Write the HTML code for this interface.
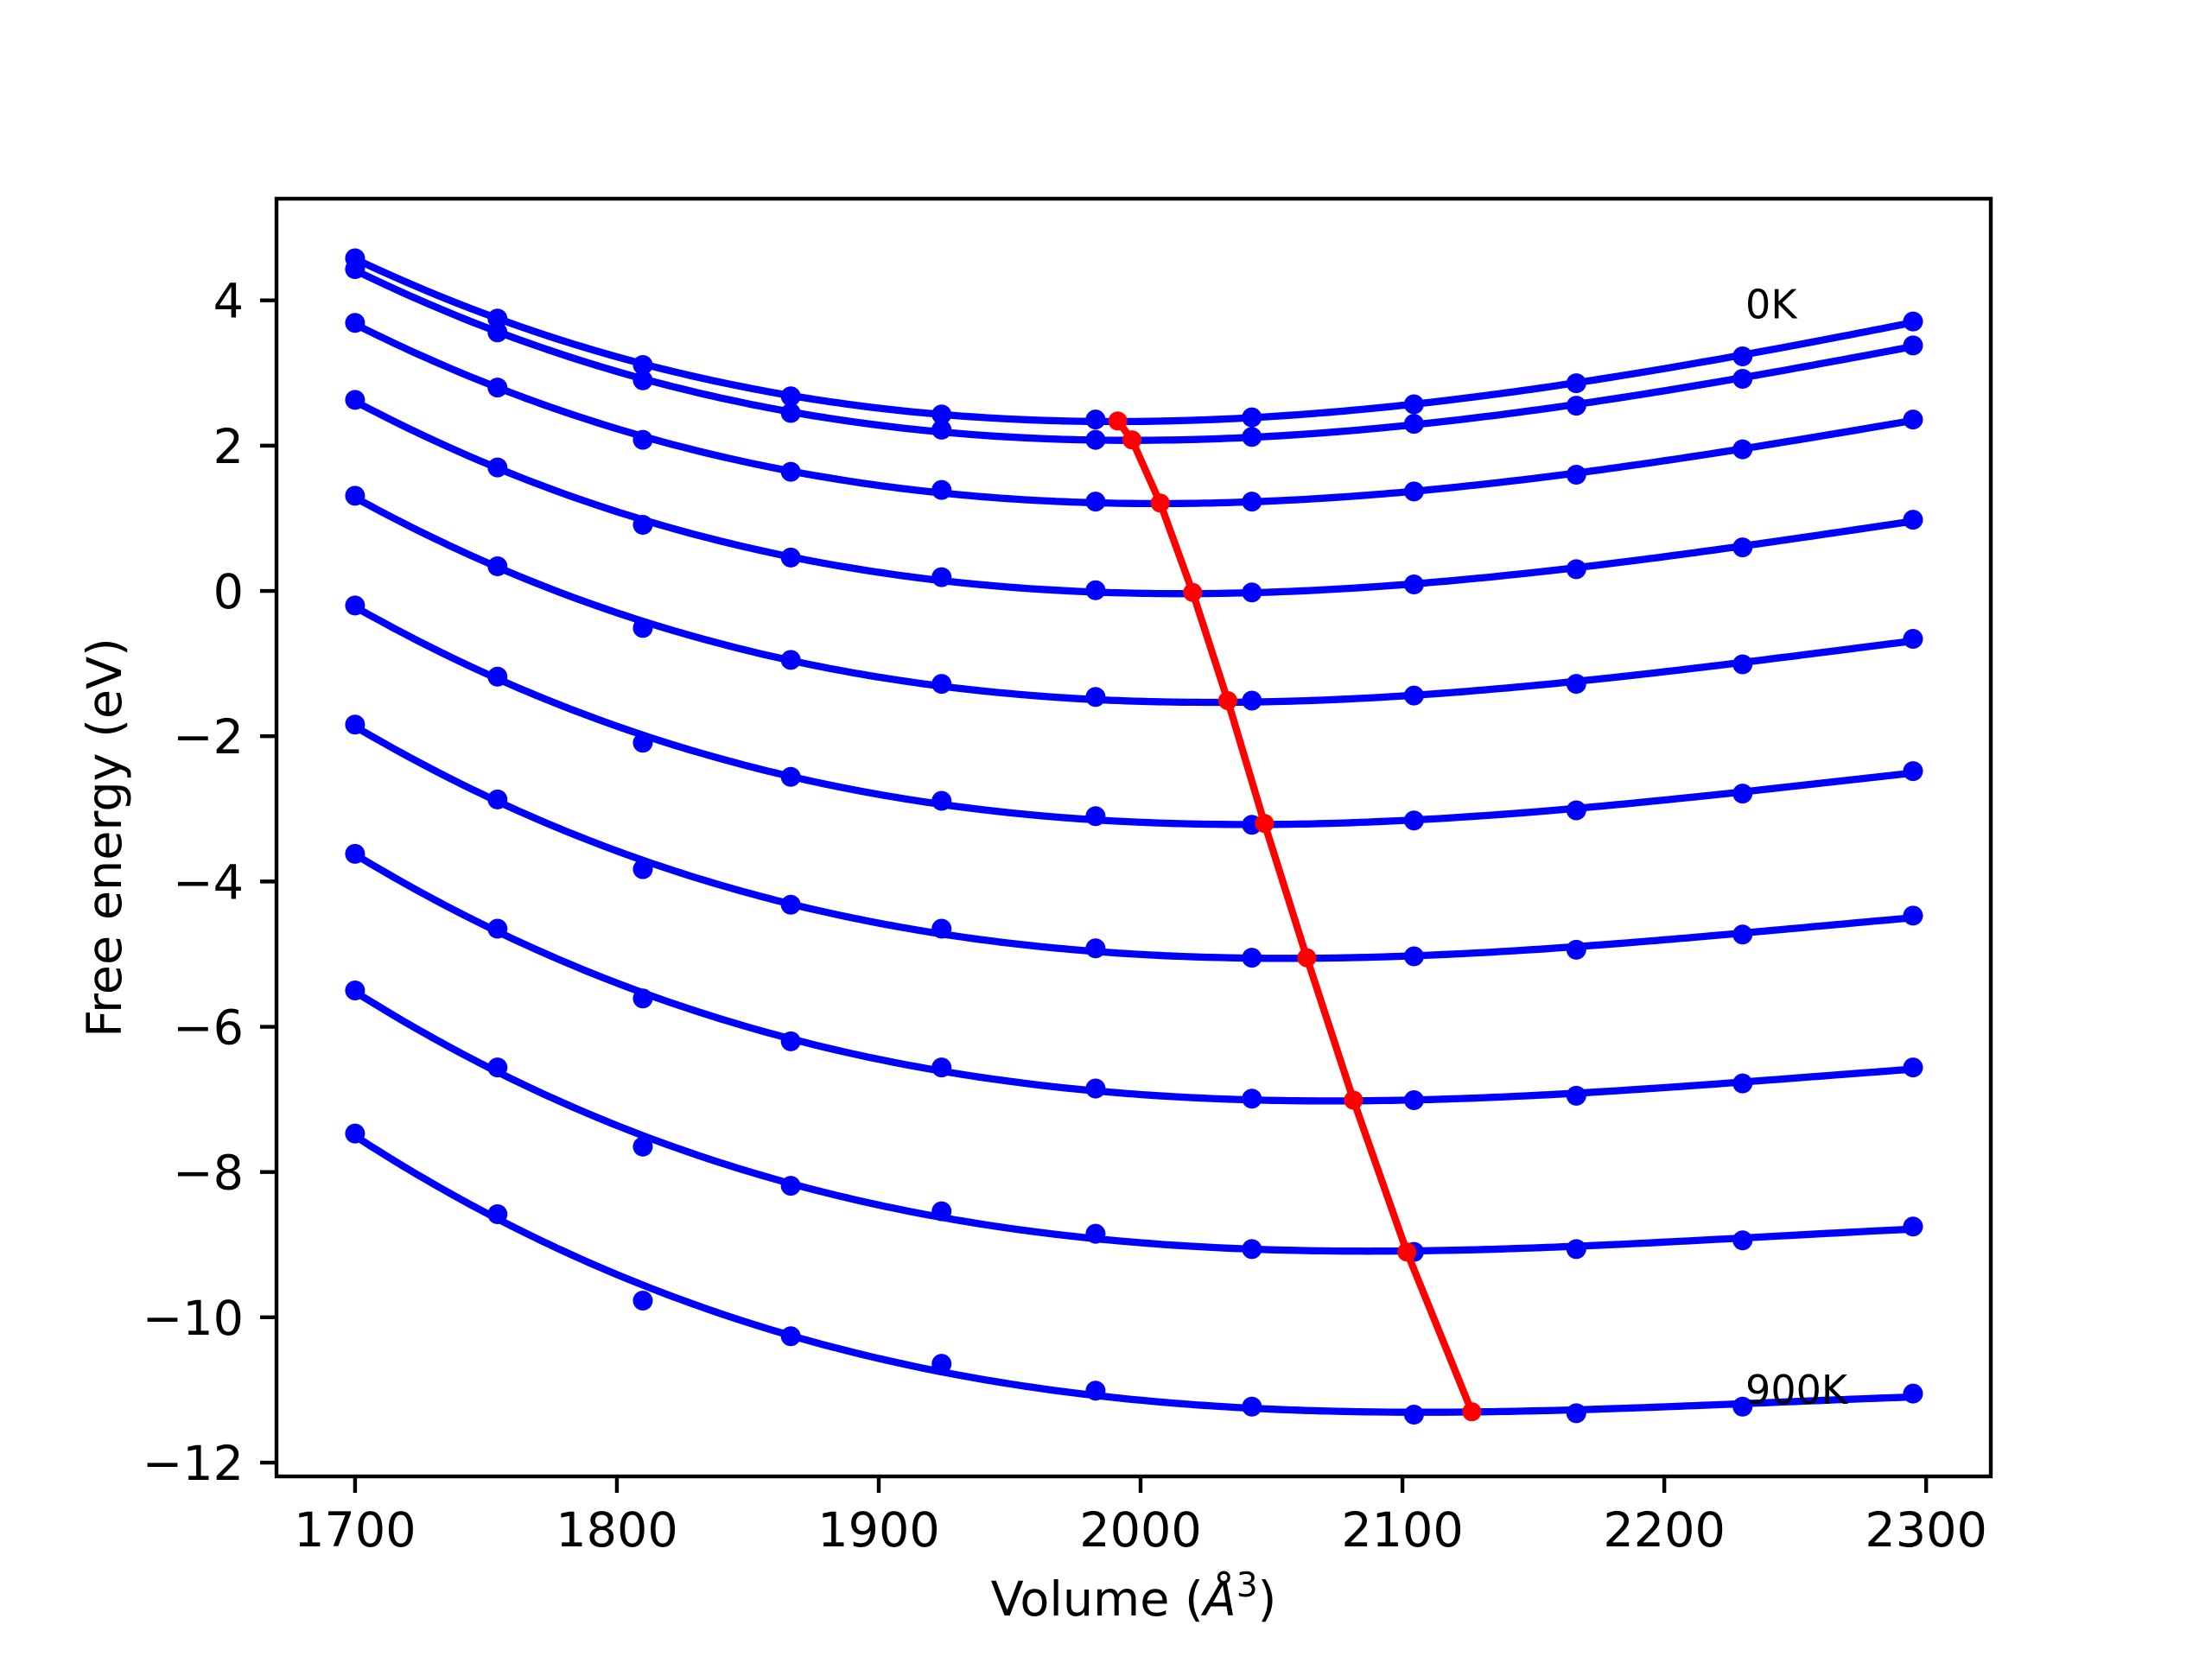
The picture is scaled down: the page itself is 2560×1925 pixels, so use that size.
<!DOCTYPE html>
<html><head><meta charset="utf-8"><style>
html,body{margin:0;padding:0;background:#fff}
svg text{font-family:"DejaVu Sans","Liberation Sans",sans-serif}
</style></head><body>
<svg id="chart" width="2560" height="1920" viewBox="0 0 2560 1920" xmlns="http://www.w3.org/2000/svg">
<rect width="2560" height="1920" fill="#fff"/>
<g id="plot"></g>
<g id="axes"></g>
</svg>
<script>
const volumes = [1700, 1754.4, 1809.9, 1866.4, 1924, 1982.8, 2042.5, 2104.4, 2166.4, 2229.9, 2295];
const e0 = [4.58, 3.75, 3.11, 2.68, 2.43, 2.36, 2.39, 2.57, 2.86, 3.23, 3.71];
const e1 = [4.43, 3.56, 2.90, 2.45, 2.22, 2.08, 2.12, 2.30, 2.55, 2.92, 3.38];
const e2 = [3.69, 2.80, 2.08, 1.64, 1.39, 1.23, 1.23, 1.37, 1.60, 1.95, 2.36];
const e3 = [2.63, 1.70, 0.91, 0.46, 0.19, 0.01, -0.02, 0.09, 0.30, 0.60, 0.98];
const e4 = [1.31, 0.34, -0.51, -0.95, -1.28, -1.46, -1.51, -1.44, -1.28, -1.01, -0.66];
const e5 = [-0.20, -1.18, -2.09, -2.56, -2.89, -3.10, -3.22, -3.16, -3.02, -2.79, -2.48];
const e6 = [-1.84, -2.87, -3.83, -4.32, -4.65, -4.92, -5.05, -5.03, -4.94, -4.73, -4.47];
const e7 = [-3.62, -4.65, -5.61, -6.20, -6.56, -6.85, -6.99, -7.01, -6.95, -6.78, -6.56];
const e8 = [-5.50, -6.56, -7.65, -8.19, -8.54, -8.85, -9.06, -9.10, -9.06, -8.94, -8.75];
const e9 = [-7.47, -8.58, -9.77, -10.26, -10.64, -11.01, -11.23, -11.34, -11.32, -11.23, -11.05];
const minV = [1991.3, 1996.7, 2007.5, 2019.9, 2033.3, 2047.3, 2063.5, 2081.3, 2101.7, 2126.5];
const minE = [2.34, 2.08, 1.21, -0.02, -1.51, -3.20, -5.05, -7.01, -9.10, -11.30];
const xTicks = [1700, 1800, 1900, 2000, 2100, 2200, 2300];
const yTicks = [4, 2, 0, -2, -4, -6, -8, -10, -12];
const seriesE = [e0, e1, e2, e3, e4, e5, e6, e7, e8, e9];

const L=320,R=2304,T=230,B=1709;
const X0=1670,X1=2324.7,Y0=-12.19,Y1=5.40;
const sx=v=>L+(v-X0)/(X1-X0)*(R-L);
const sy=e=>B-(e-Y0)/(Y1-Y0)*(B-T);
const NS="http://www.w3.org/2000/svg";
const plot=document.getElementById('plot'), axes=document.getElementById('axes');
function mk(tag,attrs,parent){const el=document.createElementNS(NS,tag);for(const k in attrs)el.setAttribute(k,attrs[k]);parent.appendChild(el);return el;}

// cubic least squares fit
function fit(xs,ys){
  const n=4, A=[...Array(n)].map(()=>Array(n+1).fill(0));
  xs.forEach((x,i)=>{const t=(x-2000)/300;const p=[1,t,t*t,t*t*t];
    for(let r=0;r<n;r++){for(let c=0;c<n;c++)A[r][c]+=p[r]*p[c];A[r][n]+=p[r]*ys[i];}});
  for(let i=0;i<n;i++){let m=i;for(let k=i+1;k<n;k++)if(Math.abs(A[k][i])>Math.abs(A[m][i]))m=k;[A[i],A[m]]=[A[m],A[i]];
    for(let k=0;k<n;k++)if(k!==i){const f=A[k][i]/A[i][i];for(let c=i;c<=n;c++)A[k][c]-=f*A[i][c];}}
  const co=A.map((r,i)=>r[n]/r[i]);
  return x=>{const t=(x-2000)/300;return co[0]+co[1]*t+co[2]*t*t+co[3]*t*t*t;};
}

seriesE.forEach((es,si)=>{
  const f=fit(volumes,es);
  let d='';const v0=volumes[0],v1=volumes[volumes.length-1];
  for(let i=0;i<=200;i++){const v=v0+(v1-v0)*i/200;d+=(i?'L':'M')+sx(v).toFixed(1)+' '+sy(f(v)).toFixed(1);}
  const p=mk('path',{d,fill:'none',stroke:'#0000ff','stroke-width':8.3,'stroke-linejoin':'round'},plot);
  
  
  es.forEach((e,i)=>{
    const c=mk('circle',{cx:sx(volumes[i]),cy:sy(e),r:11.5,fill:'#0000ff'},plot);
    
    
  });
});
{
  let d='';minV.forEach((v,i)=>{d+=(i?'L':'M')+sx(v)+' '+sy(minE[i]);});
  const p=mk('path',{d,fill:'none',stroke:'#ff0000','stroke-width':8.3,'stroke-linejoin':'round'},plot);
  
  
  minV.forEach((v,i)=>{
    const c=mk('circle',{cx:sx(v),cy:sy(minE[i]),r:11,fill:'#ff0000'},plot);
    
    
  });
}
// annotations
const a0=mk('text',{x:sx(2231),y:sy(3.75),'font-size':46},plot);a0.textContent='0K';


const a1=mk('text',{x:sx(2231),y:sy(-11.19),'font-size':46},plot);a1.textContent='900K';



// frame
const fr=mk('rect',{x:L,y:T,width:R-L,height:B-T,fill:'none',stroke:'#000','stroke-width':4.4},axes);


xTicks.forEach(v=>{
  const t=mk('line',{x1:sx(v),x2:sx(v),y1:B,y2:B+19,stroke:'#000','stroke-width':4.4},axes);
  
  
  const tx=mk('text',{x:sx(v),y:1790,'font-size':55.6,'text-anchor':'middle'},axes);tx.textContent=v;
  
  
});
yTicks.forEach(v=>{
  const t=mk('line',{x1:L-19,x2:L,y1:sy(v),y2:sy(v),stroke:'#000','stroke-width':4.4},axes);
  
  
  const tx=mk('text',{x:L-38,y:sy(v)+20,'font-size':55.6,'text-anchor':'end'},axes);tx.textContent=(v<0?'\u2212':'')+Math.abs(v);
  
  
});
const xl=mk('text',{x:(L+R)/2,y:1870,'font-size':55.6,'text-anchor':'middle'},axes);
xl.innerHTML='Volume (<tspan font-style="italic">Å</tspan><tspan font-size="39" dy="-22">3</tspan><tspan dy="22">)</tspan>';


const yl=mk('text',{x:0,y:0,'font-size':55.6,'text-anchor':'middle',transform:`translate(140 ${(T+B)/2}) rotate(-90)`},axes);
yl.textContent='Free energy (eV)';


</script>
</body></html>
